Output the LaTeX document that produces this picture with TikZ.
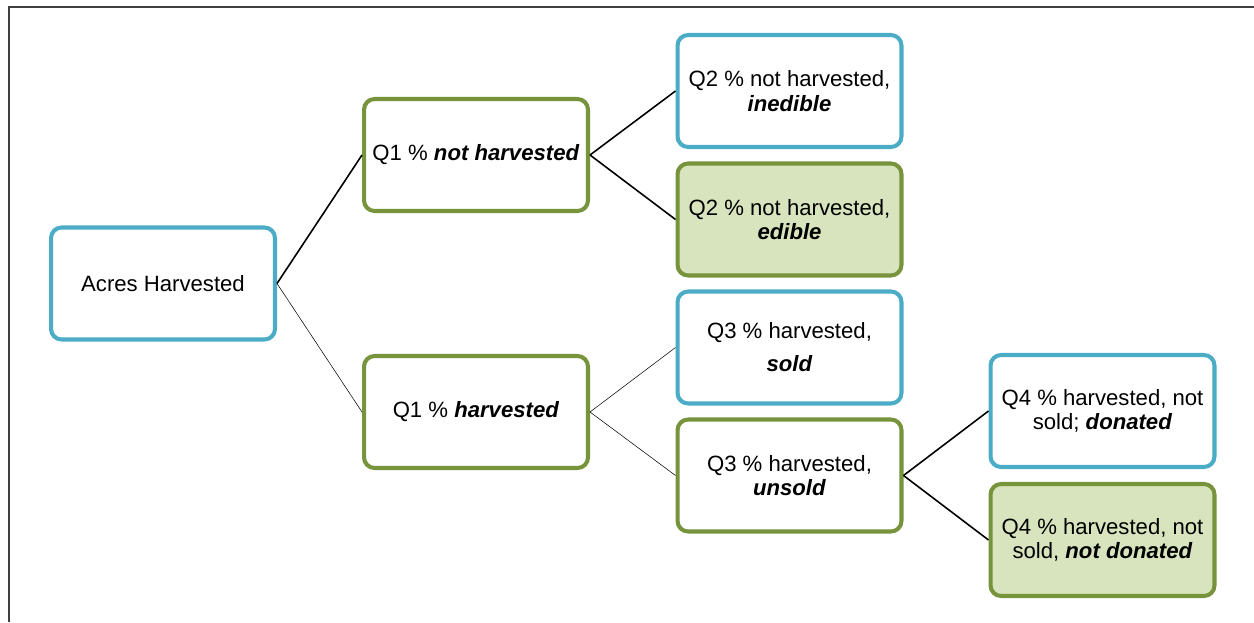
\documentclass[tikz,border=0pt]{standalone}
\usepackage{fontspec}
\setmainfont{Liberation Sans}
\usepackage{xcolor}
\usetikzlibrary{calc, positioning}

\definecolor{boxblue}{HTML}{4BACC6}
\definecolor{boxgreen}{HTML}{77933C}
\definecolor{boxfill}{HTML}{D7E4BD}

\tikzset{
    bluebox/.style={draw=boxblue, line width=2.3pt, rounded corners=6pt, fill=white,
        minimum width=4.48cm, minimum height=2.24cm, align=center,
        font=\fontsize{12.6}{13.8}\selectfont},
    greenbox/.style={bluebox, draw=boxgreen},
    greenfill/.style={greenbox, fill=boxfill},
    thickline/.style={line width=0.9pt},
    thinline/.style={line width=0.3pt}
}

\begin{document}
\begin{tikzpicture}[>=latex, x=0.02cm, y=-0.02cm]
    % Khung
    \useasboundingbox (0,0) rectangle (1254,622);
    \draw[line width=0.9pt, black!75] (9,622) -- (9,7) -- (1254,7);

    % Các ô
    \node[bluebox] (acres) at (163,283.5) {Acres Harvested};
    \node[greenbox] (q1no) at (476,155) {Q1 \% \textbf{\textit{not harvested}}};
    \node[greenbox] (q1yes) at (476,412) {Q1 \% \textbf{\textit{harvested}}};
    \node[bluebox] (q2ined) at (789.5,91) {Q2 \% not harvested,\\ \textbf{\textit{inedible}}};
    \node[greenfill] (q2ed) at (789.5,219.5) {Q2 \% not harvested,\\ \textbf{\textit{edible}}};
    \node[bluebox] (q3sold) at (789.5,347.5) {Q3 \% harvested,\\[5pt] \textbf{\textit{sold}}};
    \node[greenbox] (q3unsold) at (789.5,475.5) {Q3 \% harvested,\\ \textbf{\textit{unsold}}};
    \node[bluebox] (q4don) at (1102.5,411) {Q4 \% harvested, not\\ sold; \textbf{\textit{donated}}};
    \node[greenfill] (q4notdon) at (1102.5,540) {Q4 \% harvested, not\\ sold, \textbf{\textit{not donated}}};

    % Các nhánh
    \draw[thickline] (acres.east) -- (q1no.west);
    \draw[thinline] (acres.east) -- (q1yes.west);
    \draw[thickline] (q1no.east) -- (q2ined.west);
    \draw[thickline] (q1no.east) -- (q2ed.west);
    \draw[thinline] (q1yes.east) -- (q3sold.west);
    \draw[thinline] (q1yes.east) -- (q3unsold.west);
    \draw[thickline] (q3unsold.east) -- (q4don.west);
    \draw[thickline] (q3unsold.east) -- (q4notdon.west);
\end{tikzpicture}
\end{document}
